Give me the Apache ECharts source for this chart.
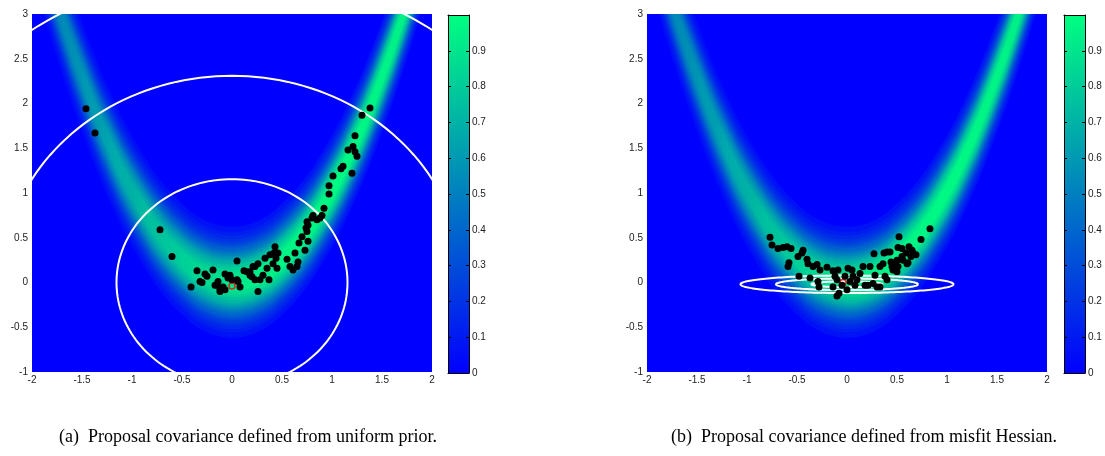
<!DOCTYPE html>
<html><head><meta charset="utf-8">
<script src="https://cdn.jsdelivr.net/npm/echarts@6/dist/echarts.min.js"></script>
<style>html,body{margin:0;padding:0;background:#fff}#c{width:1105px;height:456px}</style>
</head><body><div id="c"></div>
<script>
// ---- density ridge (centre line of the banana) ----
const ridgeX = [-2.0,-1.9,-1.8,-1.7,-1.6,-1.5,-1.4,-1.3,-1.2,-1.1,-1.0,-0.9,-0.8,-0.7,-0.6,-0.5,-0.4,-0.3,-0.2,-0.1,0.0,
                0.1,0.2,0.3,0.4,0.5,0.6,0.7,0.8,0.9,1.0,1.1,1.2,1.3,1.4,1.5,1.6,1.7,1.8,1.9,2.0];
const ridgeY = [4.08,3.68,3.30,2.95,2.61,2.30,2.00,1.72,1.47,1.23,1.02,0.83,0.65,0.50,0.37,0.26,0.16,0.09,0.04,0.01,0.00,
                0.01,0.04,0.09,0.16,0.26,0.37,0.50,0.65,0.83,1.02,1.23,1.47,1.72,2.00,2.30,2.61,2.95,3.30,3.68,4.08];
// peak density value along the ridge
const peakX = [-2.0,-1.5,-1.0,-0.5,0.0,0.5,1.0,1.5,2.0];
const peakV = [0.52,0.60,0.72,0.83,0.92,0.98,1.00,0.98,0.95];
// cross-section of the ridge: vertical half-width at which each level is reached
const levels = [0.05,0.10,0.15,0.20,0.25,0.30,0.35,0.40,0.45,0.50,0.55,0.60,0.65,0.70,0.75,0.80,0.85,0.90,0.95];
const halfW  = [0.62,0.56,0.52,0.48,0.45,0.42,0.40,0.38,0.35,0.33,0.31,0.29,0.27,0.25,0.23,0.20,0.17,0.14,0.10];

// ---- proposal covariance contours [cx, cy, rx, ry] ----
const contoursA = [[0,0,1.155,1.155],[0,0,2.31,2.31],[0,0,3.46,3.46]];
const contoursB = [[0,-0.02,0.355,0.033],[0,-0.02,0.71,0.065],[0,-0.02,1.065,0.098]];

// ---- MCMC samples ----
const samplesA = [[-1.46,1.94],[-1.37,1.67],[-0.72,0.59],[-0.60,0.29],[-0.41,-0.05],[-0.35,0.13],[-0.32,0.01],[-0.30,0.0],
 [-0.27,0.095],[-0.25,0.07],[-0.19,0.14],[-0.17,-0.03],[-0.15,-0.03],[-0.14,0.01],[-0.12,-0.08],[-0.12,-0.10],[-0.09,-0.05],
 [-0.07,0.095],[-0.07,-0.08],[-0.04,0.05],[-0.02,0.08],[0.0,0.03],[0.05,0.24],[0.05,0.03],[0.06,0.01],[0.08,-0.05],
 [0.12,0.13],[0.15,0.12],[0.18,0.12],[0.18,0.08],[0.20,0.065],[0.21,0.18],[0.23,0.18],[0.23,0.03],[0.26,0.21],[0.26,-0.10],
 [0.28,0.03],[0.31,0.08],[0.33,0.27],[0.35,0.16],[0.37,0.03],[0.38,0.31],[0.41,0.21],[0.42,0.33],[0.43,0.40],[0.44,0.27],
 [0.45,0.16],[0.46,0.33],[0.55,0.26],[0.58,0.18],[0.61,0.14],[0.63,0.33],[0.65,0.18],[0.66,0.23],[0.67,0.44],[0.70,0.51],
 [0.73,0.36],[0.74,0.61],[0.75,0.57],[0.75,0.68],[0.76,0.64],[0.76,0.46],[0.80,0.72],[0.81,0.75],[0.85,0.70],[0.88,0.72],
 [0.90,0.75],[0.92,0.83],[0.97,0.99],[0.97,1.08],[1.01,1.19],[1.09,1.27],[1.11,1.30],[1.16,1.48],[1.20,1.22],[1.21,1.52],
 [1.23,1.46],[1.23,1.64],[1.25,1.41],[1.30,1.87],[1.38,1.95]];
const samplesB = [[-0.77,0.505],[-0.75,0.42],[-0.69,0.38],[-0.64,0.39],[-0.60,0.40],[-0.56,0.38],[-0.59,0.18],[-0.58,0.22],
 [-0.49,0.29],[-0.45,0.33],[-0.44,0.36],[-0.48,0.07],[-0.40,0.26],[-0.39,0.21],[-0.37,0.05],[-0.34,0.18],[-0.30,0.20],
 [-0.29,0.01],[-0.28,-0.05],[-0.27,0.14],[-0.20,0.17],[-0.14,0.13],[-0.12,0.07],[-0.10,0.03],[-0.09,0.14],[-0.14,-0.05],
 [-0.10,-0.15],[-0.08,-0.12],[-0.05,-0.03],[-0.02,0.07],[0.0,-0.08],[0.01,0.16],[0.03,0.01],[0.05,0.14],[0.06,0.07],
 [0.08,-0.03],[0.10,0.03],[0.13,0.10],[0.16,0.18],[0.18,-0.03],[0.23,0.18],[0.21,-0.03],[0.26,-0.01],[0.27,0.32],[0.28,0.08],
 [0.30,-0.05],[0.33,-0.05],[0.33,0.18],[0.36,0.21],[0.37,0.33],[0.38,0.07],[0.40,0.03],[0.40,0.34],[0.43,0.34],[0.44,0.23],
 [0.45,0.18],[0.46,0.14],[0.48,0.21],[0.50,0.25],[0.50,0.12],[0.51,0.18],[0.51,0.39],[0.52,0.51],[0.55,0.38],[0.55,0.29],
 [0.56,0.25],[0.59,0.33],[0.60,0.21],[0.61,0.22],[0.62,0.40],[0.64,0.29],[0.65,0.36],[0.66,0.33],[0.69,0.31],[0.74,0.48],[0.83,0.60]];
const startA = [[0.0,-0.04]];
const startB = [[-0.04,0.0]];

// ---- axes / ticks ----
const xRange = [-2, 2], xStep = 0.5;
const yRange = [-1, 3], yStep = 0.5;
const cbarTicks = ['0','0.1','0.2','0.3','0.4','0.5','0.6','0.7','0.8','0.9'];
const captions = ['(a)  Proposal covariance defined from uniform prior.', '(b)  Proposal covariance defined from misfit Hessian.'];

const chart = echarts.init(document.getElementById('c'), null, {renderer: 'canvas'});

function bandSeries(xi, yi) {
  return {
    type: 'custom', xAxisIndex: xi, yAxisIndex: yi, z: 1, clip: true, silent: true,
    data: levels.map(v => [0, v]),
    renderItem: function (params, api) {
      const i = params.dataIndex;
      const d = halfW[i];
      const pts = [];
      for (let k = 0; k < ridgeX.length; k++) pts.push(api.coord([ridgeX[k], ridgeY[k] + d]));
      for (let k = ridgeX.length - 1; k >= 0; k--) pts.push(api.coord([ridgeX[k], ridgeY[k] - d]));
      const tm = Math.min(1, levels[i] + 0.025);
      const tp = i === 0 ? 0 : levels[i - 1] + 0.025;
      const x0 = peakX[0], x1 = peakX[peakX.length - 1];
      const stops = peakX.map((px, j) => {
        const g = peakV[j];
        const a = 1 - (1 - g * tm) / (1 - g * tp);
        return {offset: (px - x0) / (x1 - x0), color: 'rgba(0,255,128,' + a.toFixed(4) + ')'};
      });
      const p0 = api.coord([x0, 0])[0], p1 = api.coord([x1, 0])[0];
      return {type: 'polygon', shape: {points: pts},
        style: {fill: new echarts.graphic.LinearGradient(p0, 0, p1, 0, stops, true), stroke: null}};
    }
  };
}
function contourSeries(xi, yi, list) {
  return {
    type: 'custom', xAxisIndex: xi, yAxisIndex: yi, z: 3, clip: true, silent: true,
    data: list.map(e => [e[0], e[1]]),
    renderItem: function (params, api) {
      const e = list[params.dataIndex];
      const pts = [];
      for (let t = 0; t <= 180; t++) {
        const th = t / 180 * 2 * Math.PI;
        pts.push(api.coord([e[0] + e[2] * Math.cos(th), e[1] + e[3] * Math.sin(th)]));
      }
      return {type: 'polyline', shape: {points: pts}, style: {stroke: '#ffffff', lineWidth: 2, fill: null}};
    }
  };
}
function mainGrid(left) { return {left: left, top: 14, width: 400, height: 358, show: true, backgroundColor: '#0000ff', borderWidth: 0}; }
function cbarGrid(left) { return {left: left, top: 15, width: 21, height: 358, show: false}; }
const lbl = {color: '#222', fontSize: 10, fontFamily: 'Liberation Sans, Arial, sans-serif'};
function mainX(gi) { return {type: 'value', gridIndex: gi, min: xRange[0], max: xRange[1], interval: xStep,
  axisLine: {show: false}, axisTick: {show: false}, splitLine: {show: false}, axisLabel: Object.assign({margin: 3}, lbl)}; }
function mainY(gi) { return {type: 'value', gridIndex: gi, min: yRange[0], max: yRange[1], interval: yStep,
  axisLine: {show: false}, axisTick: {show: false}, splitLine: {show: false}, axisLabel: Object.assign({margin: 4}, lbl)}; }
function cbX(gi, pos) { return {type: 'category', gridIndex: gi, position: pos, data: [''], z: 10,
  axisLine: {show: true, onZero: false, lineStyle: {color: '#000', width: 1}}, axisTick: {show: false}, axisLabel: {show: false}}; }
function cbY(gi, pos, labels) { return {type: 'value', gridIndex: gi, position: pos, min: 0, max: 1, interval: 0.1, z: 10,
  axisLine: {show: true, lineStyle: {color: '#000', width: 1}},
  axisTick: {show: true, inside: true, length: 3, lineStyle: {color: '#000'}},
  splitLine: {show: false},
  axisLabel: labels ? Object.assign({margin: 3, formatter: (v, idx) => (idx < cbarTicks.length ? cbarTicks[idx] : '')}, lbl) : {show: false}}; }
function cbBar(xi, yi) { return {type: 'bar', xAxisIndex: xi, yAxisIndex: yi, data: [1], barWidth: '100%', silent: true, z: 2,
  itemStyle: {color: new echarts.graphic.LinearGradient(0, 0, 0, 1, [{offset: 0, color: '#00ff80'}, {offset: 1, color: '#0000ff'}])}}; }
function ptSeries(xi, yi, data) { return {type: 'scatter', xAxisIndex: xi, yAxisIndex: yi, data: data, symbol: 'circle', symbolSize: 7,
  itemStyle: {color: '#000', opacity: 1}, z: 5, silent: true}; }
function startSeries(xi, yi, data) { return {type: 'scatter', xAxisIndex: xi, yAxisIndex: yi, data: data, symbol: 'circle', symbolSize: 6,
  itemStyle: {color: 'rgba(0,0,0,0)', borderColor: '#ff0000', borderWidth: 1.5}, z: 4, silent: true}; }

chart.setOption({
  animation: false,
  grid: [mainGrid(32), cbarGrid(448), mainGrid(647), cbarGrid(1064)],
  xAxis: [mainX(0), cbX(1, 'bottom'), cbX(1, 'top'), mainX(2), cbX(3, 'bottom'), cbX(3, 'top')],
  yAxis: [mainY(0), cbY(1, 'right', true), cbY(1, 'left', false), mainY(2), cbY(3, 'right', true), cbY(3, 'left', false)],
  series: [
    bandSeries(0, 0), contourSeries(0, 0, contoursA), startSeries(0, 0, startA), ptSeries(0, 0, samplesA),
    cbBar(1, 1),
    bandSeries(3, 3), contourSeries(3, 3, contoursB), startSeries(3, 3, startB), ptSeries(3, 3, samplesB),
    cbBar(4, 4)
  ],
  graphic: [
    {type: 'text', x: 248, y: 437, style: {text: captions[0], fill: '#000', font: '18px "Liberation Serif", "Times New Roman", serif', textAlign: 'center', textVerticalAlign: 'middle'}},
    {type: 'text', x: 864, y: 437, style: {text: captions[1], fill: '#000', font: '18px "Liberation Serif", "Times New Roman", serif', textAlign: 'center', textVerticalAlign: 'middle'}}
  ]
});
</script></body></html>
